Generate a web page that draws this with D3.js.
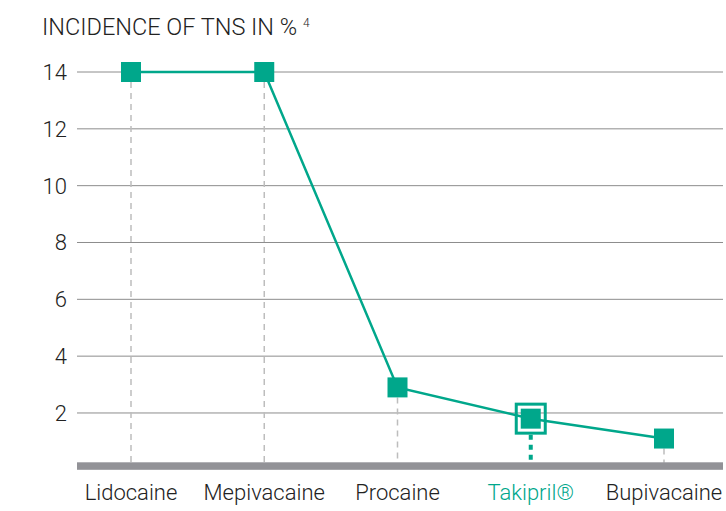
<!DOCTYPE html>
<html><head><meta charset="utf-8">
<script src="https://cdn.jsdelivr.net/npm/d3@7"></script>
<style>body{margin:0;background:#fff}svg{display:block}</style>
</head><body>
<script>
const categories = ["Lidocaine","Mepivacaine","Procaine","Takipril®","Bupivacaine"];
const values = [14, 14, 2.9, 1.8, 1.1];
const yTicks = [2,4,6,8,10,12,14];
const highlight = "Takipril®";
const title = "INCIDENCE OF TNS IN %";
const titleSup = "4";

const W=726,H=511;
const teal="#00a78b";
const font="Roboto,'Liberation Sans',sans-serif";
const svg=d3.select("body").append("svg").attr("width",W).attr("height",H);
const x=d3.scalePoint().domain(categories).range([131,664]);
const y=d3.scaleLinear().domain([0,14]).range([469.8,72]);

svg.append("g").selectAll("line").data(yTicks).join("line")
  .attr("x1",77).attr("x2",723).attr("y1",d=>y(d)).attr("y2",d=>y(d))
  .attr("stroke","#8c8c8c").attr("stroke-width",1);
svg.append("g").selectAll("text").data(yTicks).join("text")
  .attr("x",67).attr("y",d=>y(d)).attr("dy","0.36em").attr("text-anchor","end")
  .attr("font-family",font).attr("font-weight",300).attr("font-size",22).attr("fill","#222").text(d=>d);

const data=categories.map((c,i)=>({c,v:values[i]}));
svg.append("g").selectAll("line").data(data).join("line")
  .attr("x1",d=>x(d.c)).attr("x2",d=>x(d.c))
  .attr("y1",d=>y(d.v)+(d.c===highlight?16:10)).attr("y2",y(0)-7)
  .attr("stroke",d=>d.c===highlight?teal:"#bdbdbd")
  .attr("stroke-width",d=>d.c===highlight?4:1.5)
  .attr("stroke-dasharray",d=>d.c===highlight?"5,5":"6,5");
svg.append("rect").attr("x",77).attr("y",y(0)-7.5).attr("width",646).attr("height",7.5).attr("fill","#929297");
svg.append("path").datum(data)
  .attr("d",d3.line().x(d=>x(d.c)).y(d=>y(d.v)))
  .attr("fill","none").attr("stroke",teal).attr("stroke-width",2.5);
data.filter(d=>d.c===highlight).forEach(d=>{
  svg.append("rect").attr("x",x(d.c)-14.5).attr("y",y(d.v)-14.5).attr("width",29).attr("height",29)
   .attr("fill","none").attr("stroke",teal).attr("stroke-width",3);
});
svg.append("g").selectAll("rect").data(data).join("rect")
  .attr("x",d=>x(d.c)-10).attr("y",d=>y(d.v)-10).attr("width",20).attr("height",20).attr("fill",teal);
svg.append("g").selectAll("text").data(categories).join("text")
  .attr("x",d=>x(d)).attr("y",500).attr("text-anchor","middle")
  .attr("font-family",font).attr("font-weight",300).attr("font-size",22)
  .attr("fill",d=>d===highlight?teal:"#222").text(d=>d);
const t=svg.append("text").attr("x",42).attr("y",35).attr("font-family",font).attr("font-weight",300).attr("font-size",23.5).attr("fill","#222");
t.append("tspan").text(title+" ");
t.append("tspan").attr("font-size",12).attr("dy",-8).text(titleSup);
</script>
</body></html>
